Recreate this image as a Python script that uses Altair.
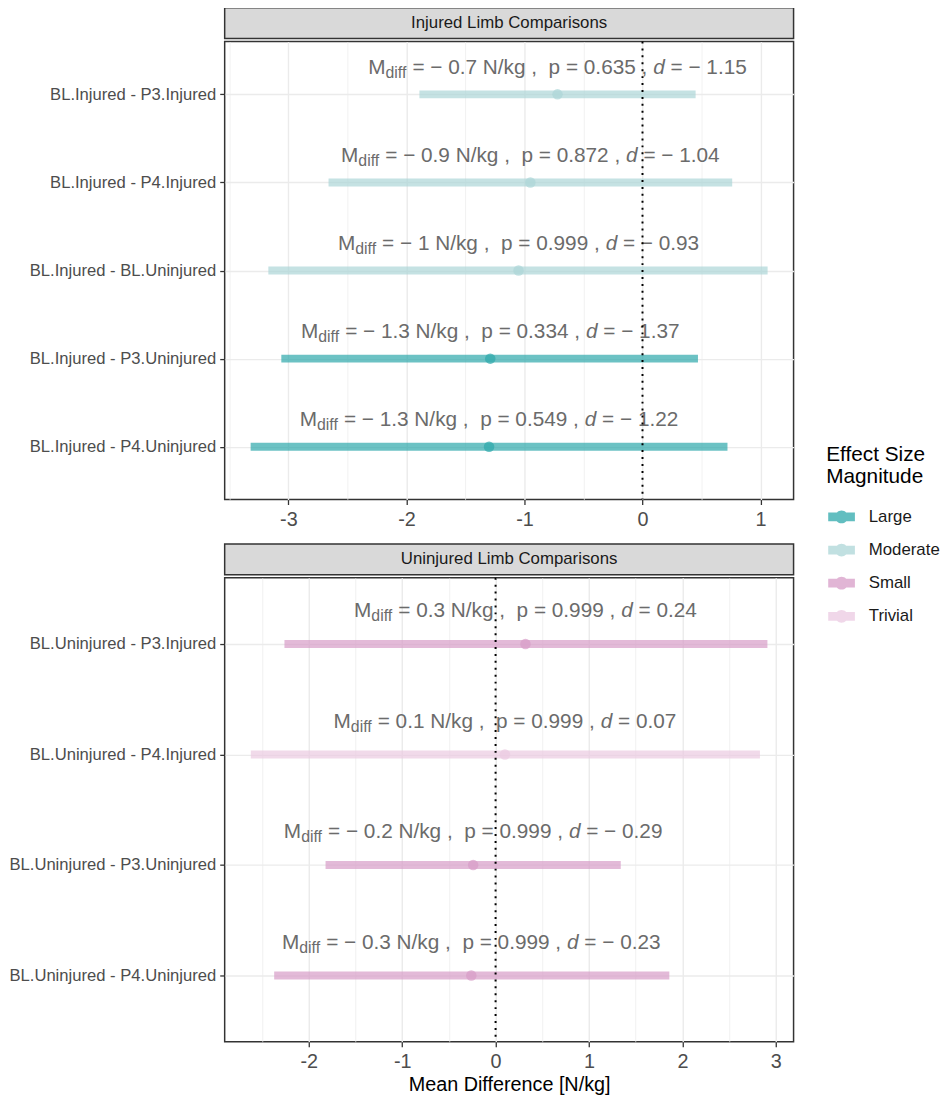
import altair as alt
import pandas as pd

FONT = "Liberation Sans"

# ---------------- data ----------------
inj_comparisons = ["BL.Injured - P3.Injured", "BL.Injured - P4.Injured",
                   "BL.Injured - BL.Uninjured", "BL.Injured - P3.Uninjured",
                   "BL.Injured - P4.Uninjured"]
inj_mean = [-0.72, -0.95, -1.05, -1.29, -1.30]
inj_lower = [-1.89, -2.66, -3.17, -3.06, -3.32]
inj_upper = [0.45, 0.76, 1.06, 0.47, 0.72]
inj_mdiff = [-0.7, -0.9, -1, -1.3, -1.3]
inj_p = ["0.635", "0.872", "0.999", "0.334", "0.549"]
inj_d = [-1.15, -1.04, -0.93, -1.37, -1.22]
inj_magnitude = ["Moderate", "Moderate", "Moderate", "Large", "Large"]

unin_comparisons = ["BL.Uninjured - P3.Injured", "BL.Uninjured - P4.Injured",
                    "BL.Uninjured - P3.Uninjured", "BL.Uninjured - P4.Uninjured"]
unin_mean = [0.32, 0.10, -0.24, -0.26]
unin_lower = [-2.26, -2.62, -1.82, -2.37]
unin_upper = [2.91, 2.83, 1.34, 1.86]
unin_mdiff = [0.3, 0.1, -0.2, -0.3]
unin_p = ["0.999", "0.999", "0.999", "0.999"]
unin_d = [0.24, 0.07, -0.29, -0.23]
unin_magnitude = ["Small", "Trivial", "Small", "Small"]

magnitudes = ["Large", "Moderate", "Small", "Trivial"]
mag_colors = ["#2EA8AB", "#ACD6D7", "#D79CC7", "#EBCAE1"]

top_domain = [-3.54, 1.28]
bottom_domain = [-2.90, 3.19]
top_ticks = [-3.5, -3, -2.5, -2, -1.5, -1, -0.5, 0, 0.5, 1]
bottom_ticks = [-2.5, -2, -1.5, -1, -0.5, 0, 0.5, 1, 1.5, 2, 2.5, 3]

panel_titles = ["Injured Limb Comparisons", "Uninjured Limb Comparisons"]
x_title = "Mean Difference [N/kg]"

# ---------------- layout constants ----------------
W = 575
H_TOP = 463
H_BOTTOM = 469
HEADER_H = 31
F_MAIN = 21
F_SUB = 16
TXT_COLOR = "#6B6B6B"

# Arial / Liberation Sans advance widths (per 1000 em)
CW = {" ": 278, "\u00a0": 278, "=": 584, "\u2212": 584, ".": 278, ",": 278,
      "N": 722, "/": 278, "k": 500, "g": 556, "p": 556, "M": 833, "d": 556,
      "i": 222, "f": 278}
for c in "0123456789":
    CW[c] = 556


def tw(s, size):
    return sum(CW.get(c, 556) for c in s) / 1000.0 * size


def signed(v, fmt):
    s = fmt(abs(v))
    return ("\u2212 " + s) if v < 0 else s


def segments(comps, means, mdiffs, ps, ds, domain):
    upp = (domain[1] - domain[0]) / W
    rows = []
    for comp, m, md, p, d in zip(comps, means, mdiffs, ps, ds):
        mid = " = " + signed(md, lambda a: f"{a:g}") + " N/kg ,  p = " + p + " , "
        end = " = " + signed(d, lambda a: f"{a:.2f}")
        mid = mid.replace(" ", "\u00a0")
        end = end.replace(" ", "\u00a0")
        parts = [("M", "main", F_MAIN), ("diff", "sub", F_SUB), (mid, "main", F_MAIN),
                 ("d", "ital", F_MAIN), (end, "main", F_MAIN)]
        total = sum(tw(t, s) for t, _, s in parts)
        off = -total / 2.0
        for t, kind, s in parts:
            # leading blanks are trimmed by the renderer: skip them in position
            stripped = t.lstrip("\u00a0 ")
            lead = tw(t[: len(t) - len(stripped)], s)
            rows.append({"comparison": comp, "kind": kind,
                         "tx": m + (off + lead) * upp, "label": stripped})
            off += tw(t, s)
    return pd.DataFrame(rows)


LEGEND = alt.Legend(
    orient="none", legendX=608, legendY=441,
    title=["Effect Size", "Magnitude"],
    titleFontSize=21, titleFontWeight="normal", titleColor="#000000",
    titleFont=FONT, titleLineHeight=22, titlePadding=17,
    labelFontSize=17, labelColor="#1A1A1A", labelFont=FONT, labelOffset=14,
    symbolType="M-1,-0.33H1V0.33H-1Z M0.48,0A0.48,0.48,0,1,1,-0.48,0A0.48,0.48,0,1,1,0.48,0Z",
    symbolSize=729, symbolStrokeWidth=0, symbolOpacity=0.75, symbolOffset=2,
    rowPadding=11.5,
)


def color_enc():
    return alt.Color("magnitude:N", scale=alt.Scale(domain=magnitudes, range=mag_colors),
                     legend=LEGEND)


def panel(comps, means, lowers, uppers, mdiffs, ps, ds, mags, domain, ticks,
          show_title, dy, height):
    df = pd.DataFrame({"comparison": comps, "mean": means, "lower": lowers,
                       "upper": uppers, "magnitude": mags})
    seg = segments(comps, means, mdiffs, ps, ds, domain)

    minor = "datum.value % 1 !== 0"
    xaxis = alt.Axis(
        values=ticks,
        labelExpr="datum.value % 1 !== 0 ? '' : (datum.value < 0 ? '-' + abs(datum.value) : '' + datum.value)",
        labelFontSize=20, labelColor="#4D4D4D", labelPadding=5, labelFlush=False,
        labelOverlap=False, labelFont=FONT,
        tickSize=5, tickColor="#333333", tickWidth=1.3,
        tickOpacity={"condition": {"test": minor, "value": 0}, "value": 1},
        grid=True, gridColor="#EBEBEB",
        gridWidth={"condition": {"test": minor, "value": 0.7}, "value": 1.4},
        domain=False,
        titleFontSize=20, titleFontWeight="normal", titleColor="#000000",
        titlePadding=3, titleFont=FONT,
    )
    xt = x_title if show_title else None
    xscale = alt.Scale(domain=domain, nice=False, zero=False)
    yenc = alt.Y(
        "comparison:N", sort=comps,
        scale=alt.Scale(type="point", domain=comps, padding=0.6),
        axis=alt.Axis(labelFontSize=16.8, labelColor="#4D4D4D", labelPadding=4,
                      labelLimit=400, labelFont=FONT, tickSize=5, tickColor="#333333",
                      tickWidth=1.3, domain=False, grid=True, gridColor="#EBEBEB",
                      gridWidth=1.4),
        title=None,
    )
    base = alt.Chart(df)
    ci = base.mark_rule(strokeWidth=8, opacity=0.7, strokeCap="butt").encode(
        x=alt.X("lower:Q", scale=xscale, axis=xaxis, title=xt),
        x2="upper:Q",
        y=yenc,
        color=color_enc(),
    )
    pts = base.mark_circle(size=113, opacity=0.7).encode(
        x=alt.X("mean:Q", scale=xscale, axis=xaxis, title=xt),
        y=yenc,
        color=color_enc(),
    )
    tbase = alt.Chart(seg)
    t_main = tbase.transform_filter("datum.kind === 'main'").mark_text(
        align="left", baseline="alphabetic", fontSize=F_MAIN, color=TXT_COLOR,
        font=FONT, dy=dy).encode(
        x=alt.X("tx:Q", scale=xscale, axis=xaxis, title=xt), y=yenc, text="label:N")
    t_sub = tbase.transform_filter("datum.kind === 'sub'").mark_text(
        align="left", baseline="alphabetic", fontSize=F_SUB, color=TXT_COLOR,
        font=FONT, dy=dy + 4).encode(
        x=alt.X("tx:Q", scale=xscale, axis=xaxis, title=xt), y=yenc, text="label:N")
    t_it = tbase.transform_filter("datum.kind === 'ital'").mark_text(
        align="left", baseline="alphabetic", fontSize=F_MAIN, color=TXT_COLOR,
        font=FONT, fontStyle="italic", dy=dy).encode(
        x=alt.X("tx:Q", scale=xscale, axis=xaxis, title=xt), y=yenc, text="label:N")
    zero = alt.Chart(pd.DataFrame({"ref": [0]})).mark_rule(
        color="black", strokeDash=[2, 5], strokeWidth=2).encode(
        x=alt.X("ref:Q", scale=xscale, axis=xaxis, title=xt))
    return alt.layer(ci, pts, t_main, t_sub, t_it, zero).properties(
        width=W, height=height,
        view=alt.ViewBackground(stroke="#333333", strokeWidth=1.5, fill="white"),
    )


def header(title):
    return alt.Chart(pd.DataFrame({"label": [title]})).mark_text(
        fontSize=17, color="#1A1A1A", font=FONT, baseline="middle").encode(
        text="label:N").properties(
        width=W, height=HEADER_H,
        view=alt.ViewBackground(fill="#D9D9D9", stroke="#333333", strokeWidth=1.5),
    )


top_plot = panel(inj_comparisons, inj_mean, inj_lower, inj_upper, inj_mdiff,
                 inj_p, inj_d, inj_magnitude, top_domain, top_ticks, False, -21, H_TOP)
bottom_plot = panel(unin_comparisons, unin_mean, unin_lower, unin_upper, unin_mdiff,
                    unin_p, unin_d, unin_magnitude, bottom_domain, bottom_ticks, True, -27,
                    H_BOTTOM)

top = alt.vconcat(header(panel_titles[0]), top_plot, spacing=0)
bottom = alt.vconcat(header(panel_titles[1]), bottom_plot, spacing=0)

chart = alt.vconcat(top, bottom, spacing=13).resolve_scale(
    x="independent", y="independent", color="shared"
).properties(
    padding={"left": 0, "top": -7, "right": 0, "bottom": 0}, background="white"
).configure(font=FONT)

chart.save("out.html", embed_options={"renderer": "svg", "actions": False})
